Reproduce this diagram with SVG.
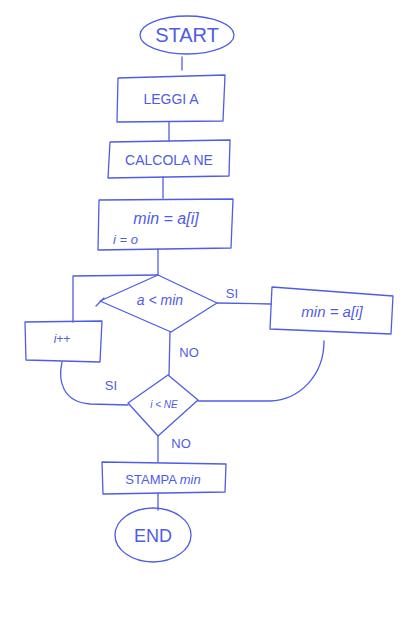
<svg xmlns="http://www.w3.org/2000/svg" width="410" height="638" viewBox="0 0 410 638">
<style>
.s{fill:none;stroke:#4f5ce6;stroke-width:1.3;stroke-linejoin:round;stroke-linecap:round}
.t{fill:#4f5ce6;font-family:"Liberation Sans",Arial,sans-serif;text-anchor:middle}
</style>
<rect width="410" height="638" fill="#fff"/>
<g id="connectors" class="s">
<path d="M182,57 L182,70"/>
<path d="M169,122 L169,141"/>
<path d="M163,177 L163,198"/>
<path d="M158,249 L158,275"/>
<path d="M73,322 L73,276 L158,275"/>
<path d="M170,332 L169,375"/>
<path d="M217,303 L271,304"/>
<path d="M324,341 C324,375 300,400 270,401 L198,401"/>
<path d="M62,362 C58,380 62,402 90,404 L128,405"/>
<path d="M158,436 L158,462"/>
<path d="M158,493 L158,510"/>
</g>
<g id="start">
<ellipse class="s" cx="187" cy="35" rx="47" ry="19"/>
<text class="t" x="187" y="42" font-size="20">START</text>
</g>
<g id="leggi">
<polygon class="s" points="118,78 225,75 223,121 117,122"/>
<text class="t" x="171" y="104" font-size="14">LEGGI  A</text>
</g>
<g id="calcola">
<polygon class="s" points="110,142 230,140 229,176 108,178"/>
<text class="t" x="169" y="165" font-size="14">CALCOLA  NE</text>
</g>
<g id="init">
<polygon class="s" points="99,200 233,199 231,248 98,250"/>
<text class="t" x="166" y="224" font-size="16" font-style="italic">min = a[i]</text>
<text x="113" y="244" font-size="13" font-style="italic" fill="#4f5ce6" font-family="Liberation Sans,Arial,sans-serif">i = o</text>
</g>
<g id="cond1">
<polygon class="s" points="158,275 217,303 171,332 100,301"/>
<path class="s" d="M96,306 L104,298"/>
<text class="t" x="160" y="305" font-size="14" font-style="italic">a &lt; min</text>
<text class="t" x="232" y="298" font-size="13">SI</text>
<text class="t" x="189" y="357" font-size="13">NO</text>
</g>
<g id="assign">
<polygon class="s" points="272,287 393,296 391,334 270,329"/>
<text class="t" x="332" y="317" font-size="15" font-style="italic">min = a[i]</text>
</g>
<g id="incr">
<polygon class="s" points="25,322 102,321 100,362 26,360"/>
<text class="t" x="62" y="343" font-size="12" font-style="italic">i++</text>
</g>
<g id="cond2">
<polygon class="s" points="168,375 198,400 158,436 128,403"/>
<text class="t" x="164" y="408" font-size="10" font-style="italic">i &lt; NE</text>
<text class="t" x="111" y="390" font-size="13">SI</text>
<text class="t" x="181" y="448" font-size="13">NO</text>
</g>
<g id="stampa">
<polygon class="s" points="102,462 226,464 225,492 103,494"/>
<text class="t" x="163" y="484" font-size="13">STAMPA  <tspan font-style="italic">min</tspan></text>
</g>
<g id="end">
<ellipse class="s" cx="153" cy="535" rx="38" ry="27"/>
<text class="t" x="153" y="542" font-size="18">END</text>
</g>
</svg>
